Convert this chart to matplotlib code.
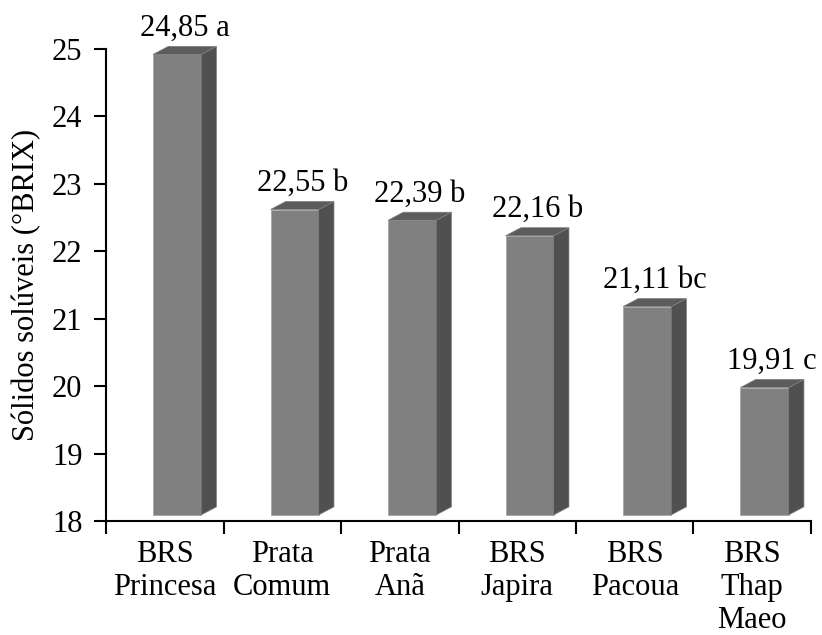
import matplotlib.pyplot as plt

cultivars = ['BRS\nPrincesa', 'Prata\nComum', 'Prata\nAnã', 'BRS\nJapira',
             'BRS\nPacoua', 'BRS\nThap\nMaeo']
brix = [24.85, 22.55, 22.39, 22.16, 21.11, 19.91]
letters = ['a', 'b', 'b', 'b', 'bc', 'c']

plt.rcParams['font.family'] = ['Liberation Serif', 'DejaVu Serif']
plt.rcParams['font.size'] = 22

fig = plt.figure(figsize=(8.22, 6.35), dpi=100)
ax = fig.add_axes([0.129, 0.1795, 0.8576, 0.7433])

base = 18
lift = 0.09       # front face sits slightly above the floor
left, right = 0.40, 0.81
dx, dy = 0.13, 0.12   # depth of the pseudo-3D box

for i, v in enumerate(brix):
    x0, x1 = i + left, i + right
    y0, y1 = base + lift, v + lift - 0.02
    # front face
    ax.fill([x0, x1, x1, x0], [y0, y0, y1, y1], color='#808080',
            ec='#a0a0a0', lw=0.5, clip_on=False, zorder=3)
    # side face
    ax.fill([x1, x1 + dx, x1 + dx, x1], [y0, y0 + dy, y1 + dy, y1],
            color='#505050', ec='#808080', lw=0.5, clip_on=False, zorder=3)
    # top face
    ax.fill([x0, x1, x1 + dx, x0 + dx], [y1, y1, y1 + dy, y1 + dy],
            color='#5c5c5c', ec='#808080', lw=0.5, clip_on=False, zorder=3)
    label = f'{v:.2f}'.replace('.', ',') + ' ' + letters[i]
    ax.text(i + 0.67, v + 0.35, label, ha='center', va='baseline')

ax.set_xlim(0, len(brix))
ax.set_ylim(18, 25)
ax.set_yticks(range(18, 26))
ax.set_xticks(range(len(brix) + 1))
ax.set_xticklabels([])
ax.set_xticks([i + 0.5 for i in range(len(brix))], minor=True)
ax.set_xticklabels(cultivars, minor=True, va='top', linespacing=1.18)
ax.tick_params(axis='x', which='minor', length=0, pad=14)
ax.tick_params(axis='both', which='major', direction='out', length=9,
               width=1.5, color='black')
ax.tick_params(axis='y', pad=8)

for side in ['top', 'right']:
    ax.spines[side].set_visible(False)
for side in ['left', 'bottom']:
    ax.spines[side].set_linewidth(1.5)

ax.set_ylabel('Sólidos solúveis (°BRIX)', labelpad=8)

fig.savefig('out.png', dpi=100)
